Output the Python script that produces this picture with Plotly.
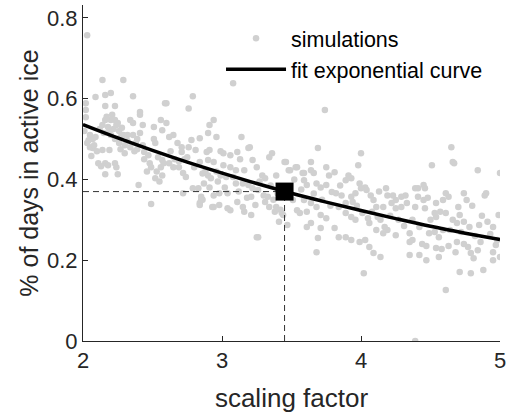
import plotly.graph_objects as go

# simulated points
sim_x = [2.03,2.14,2.29,2.09,2.02,2.02,2.02,2.16,2.20,2.36,2.23,2.16,2.59,2.41,2.41,2.16,2.20,2.23,
 2.14,2.18,2.22,2.26,2.15,2.20,2.25,2.28,2.34,2.36,2.43,2.51,2.56,2.57,2.05,2.07,2.09,2.04,2.05,2.07,
 2.29,2.32,2.36,2.26,2.30,2.34,2.39,2.41,2.43,2.51,2.52,2.14,2.19,2.06,2.37,2.39,2.44,2.44,2.48,2.49,
 2.54,2.57,2.56,2.16,2.18,2.23,2.24,2.16,2.25,2.52,2.57,2.40,2.49,2.11,2.13,
 2.17,2.21,2.24,2.19,2.12,2.23,2.27,2.01,2.03,2.08,2.10,2.27,2.32,2.38,2.30,2.47,2.53,2.58,2.46,2.55,
 3.08,2.79,2.76,2.60,2.94,2.91,2.90,2.96,3.14,2.60,2.62,2.65,2.78,2.84,2.71,2.76,2.71,2.81,2.91,2.89,
 2.99,3.01,3.06,3.11,3.19,2.66,2.69,2.73,2.62,2.69,2.65,2.84,2.90,2.94,3.01,3.06,3.10,3.16,2.72,2.74,
 2.86,2.90,2.92,2.99,3.03,3.08,3.10,3.15,3.19,2.87,2.91,2.79,2.83,2.72,2.94,2.98,3.04,2.85,2.86,2.84,
 2.94,2.98,3.04,3.06,3.11,3.15,3.16,3.26,2.84,2.85,2.93,
 2.63,2.68,2.75,2.80,2.88,2.97,3.02,3.12,3.18,2.96,3.13,
 3.74,3.69,3.36,3.34,3.20,3.22,3.25,3.45,3.54,3.49,3.58,3.64,3.64,3.75,3.77,3.29,3.31,3.39,3.59,3.61,
 3.68,3.71,3.75,3.79,3.22,3.26,3.33,3.21,3.24,3.21,3.31,3.34,3.38,3.39,3.43,3.51,3.54,3.56,3.59,3.64,
 3.61,3.68,3.71,3.75,3.64,3.61,3.71,3.69,3.68,3.25,3.47,3.46,3.48,3.53,3.59,3.66,3.41,3.42,3.44,
 3.27,3.35,3.40,3.52,3.57,3.66,3.72,3.78,3.30,3.37,
 4.00,3.98,3.81,3.91,3.93,3.89,3.99,4.03,4.00,4.18,4.19,4.39,4.32,4.29,4.25,3.86,3.93,3.96,4.04,3.82,
 3.84,3.89,3.94,4.09,4.11,4.16,4.22,4.25,4.29,4.33,4.39,3.89,3.93,3.96,4.01,4.05,4.06,4.12,4.14,4.17,
 4.19,4.25,4.11,4.16,4.35,4.37,4.35,3.89,3.93,3.99,4.03,4.06,4.09,4.14,3.81,3.84,4.35,4.02,
 3.85,3.97,4.07,4.13,4.21,4.27,4.31,4.37,4.08,4.23,
 4.65,4.67,4.51,4.66,4.84,5.00,4.45,4.46,4.41,4.41,4.45,4.61,4.63,4.54,4.59,4.74,4.76,4.90,4.89,4.70,
 4.71,4.61,4.46,4.53,4.54,4.99,4.74,4.78,4.85,4.91,4.95,4.69,4.64,4.42,4.49,4.53,4.56,4.59,4.44,4.47,
 4.54,4.58,4.63,4.69,4.74,4.77,4.79,4.84,4.81,4.97,4.95,5.00,4.42,4.47,4.56,4.95,4.71,4.79,4.88,4.61,4.39,
 4.50,4.57,4.66,4.72,4.82,4.87,4.93,4.98,4.48,4.80,4.86,4.68]
sim_y = [0.757,0.646,0.646,0.604,0.589,0.572,0.554,0.609,0.614,0.606,0.582,0.582,0.589,0.567,0.560,0.547,0.547,0.547,
 0.535,0.530,0.525,0.520,0.515,0.510,0.540,0.528,0.547,0.540,0.535,0.530,0.547,0.522,0.510,0.500,0.505,0.497,0.480,0.478,
 0.510,0.510,0.510,0.490,0.485,0.480,0.500,0.515,0.485,0.500,0.490,0.473,0.473,0.458,0.470,0.475,0.468,0.450,0.440,0.430,
 0.455,0.448,0.430,0.440,0.435,0.440,0.430,0.413,0.413,0.403,0.410,0.386,0.339,0.440,0.433,
 0.555,0.560,0.535,0.520,0.525,0.500,0.505,0.520,0.490,0.485,0.470,0.475,0.495,0.490,0.465,0.460,0.420,0.440,0.420,0.395,
 0.638,0.606,0.576,0.589,0.547,0.535,0.515,0.505,0.505,0.540,0.505,0.510,0.498,0.502,0.480,0.480,0.468,0.473,0.473,0.468,
 0.470,0.465,0.460,0.468,0.478,0.450,0.445,0.450,0.440,0.430,0.430,0.443,0.448,0.443,0.435,0.430,0.423,0.423,0.416,0.406,
 0.415,0.410,0.403,0.410,0.406,0.406,0.390,0.390,0.386,0.390,0.380,0.378,0.378,0.366,0.360,0.366,0.366,0.357,0.350,0.337,
 0.332,0.337,0.329,0.324,0.344,0.332,0.320,0.257,0.342,0.349,0.332,
 0.470,0.490,0.455,0.430,0.420,0.395,0.380,0.370,0.355,0.420,0.450,
 0.572,0.478,0.465,0.455,0.480,0.448,0.430,0.443,0.430,0.423,0.416,0.443,0.423,0.430,0.410,0.410,0.403,0.410,0.398,0.386,
 0.390,0.380,0.386,0.369,0.378,0.374,0.357,0.357,0.337,0.312,0.344,0.332,0.320,0.332,0.317,0.349,0.324,0.317,0.349,0.342,
 0.320,0.332,0.312,0.304,0.292,0.282,0.280,0.255,0.220,0.257,0.287,0.443,0.423,0.430,0.416,0.416,0.295,0.325,0.312,
 0.395,0.385,0.365,0.400,0.375,0.365,0.350,0.335,0.360,0.350,
 0.465,0.435,0.418,0.410,0.403,0.398,0.390,0.380,0.378,0.378,0.360,0.378,0.360,0.357,0.349,0.360,0.357,0.366,0.374,0.366,
 0.332,0.342,0.344,0.349,0.332,0.332,0.342,0.329,0.332,0.342,0.332,0.317,0.307,0.300,0.317,0.304,0.292,0.307,0.300,0.282,
 0.275,0.262,0.275,0.267,0.267,0.250,0.245,0.257,0.250,0.245,0.250,0.233,0.218,0.208,0.280,0.257,0.213,0.168,
 0.385,0.335,0.360,0.370,0.310,0.300,0.285,0.300,0.320,0.360,
 0.480,0.440,0.435,0.443,0.423,0.416,0.386,0.378,0.378,0.357,0.349,0.366,0.357,0.342,0.349,0.366,0.349,0.366,0.360,0.332,
 0.312,0.317,0.329,0.317,0.307,0.312,0.295,0.282,0.287,0.295,0.282,0.292,0.275,0.282,0.267,0.270,0.257,0.275,0.240,0.235,
 0.230,0.228,0.235,0.245,0.240,0.233,0.218,0.225,0.205,0.238,0.220,0.208,0.213,0.200,0.208,0.200,0.171,0.168,0.176,0.126,0.000,
 0.300,0.320,0.300,0.270,0.260,0.310,0.265,0.250,0.355,0.335,0.245,0.220]

# fitted exponential curve
fit_x = [2.0, 2.25, 2.5, 2.75, 3.0, 3.25, 3.5, 3.75, 4.0, 4.25, 4.5, 4.75, 5.0]
fit_y = [0.536, 0.503, 0.472, 0.443, 0.416, 0.390, 0.366, 0.344, 0.323, 0.303, 0.284, 0.267, 0.251]

# highlighted point
pt_x = 3.45
pt_y = 0.37

x_ticks = [2, 3, 4, 5]
y_ticks = [0, 0.2, 0.4, 0.6, 0.8]
y_labels = ["0", "0.2", "0.4", "0.6", "0.8"]

axis_col = "#262626"
font_fam = "Liberation Sans, Arial, Helvetica, sans-serif"

fig = go.Figure()
fig.add_trace(go.Scatter(x=sim_x, y=sim_y, mode="markers", name="simulations",
                         marker=dict(color="#d0d0d0", size=6.5, line=dict(width=0))))
fig.add_trace(go.Scatter(x=fit_x, y=fit_y, mode="lines", name="fit exponential curve",
                         line=dict(color="black", width=3.5, shape="spline")))
fig.add_trace(go.Scatter(x=[x_ticks[0], pt_x], y=[pt_y, pt_y], mode="lines", showlegend=False,
                         line=dict(color="#333333", width=1, dash="6px,4px")))
fig.add_trace(go.Scatter(x=[pt_x, pt_x], y=[0, pt_y], mode="lines", showlegend=False,
                         line=dict(color="#333333", width=1, dash="6px,4px")))
fig.add_trace(go.Scatter(x=[pt_x], y=[pt_y], mode="markers", showlegend=False,
                         marker=dict(color="black", symbol="square", size=18)))

fig.update_layout(
    width=511, height=418,
    margin=dict(l=83, r=8, t=5, b=77),
    paper_bgcolor="white", plot_bgcolor="white",
    font=dict(family=font_fam, color=axis_col),
    legend=dict(x=0.331, y=0.962, xanchor="left", yanchor="top",
                font=dict(size=21.5, color="black"), bgcolor="rgba(0,0,0,0)",
                itemwidth=60, tracegroupgap=0),
    xaxis=dict(range=[2, 5], tickvals=x_ticks, ticks="inside", ticklen=5,
               showline=True, linecolor=axis_col, linewidth=1, tickcolor=axis_col,
               showgrid=False, zeroline=False, tickfont=dict(size=22),
               title=dict(text="scaling factor", font=dict(size=26), standoff=16)),
    yaxis=dict(range=[0, 0.832], tickvals=y_ticks, ticktext=y_labels, ticks="inside", ticklen=5,
               showline=True, linecolor=axis_col, linewidth=1, tickcolor=axis_col,
               showgrid=False, zeroline=False, tickfont=dict(size=22),
               title=dict(text="% of days in active ice", font=dict(size=25), standoff=1)),
)

fig.write_html("out.html")
